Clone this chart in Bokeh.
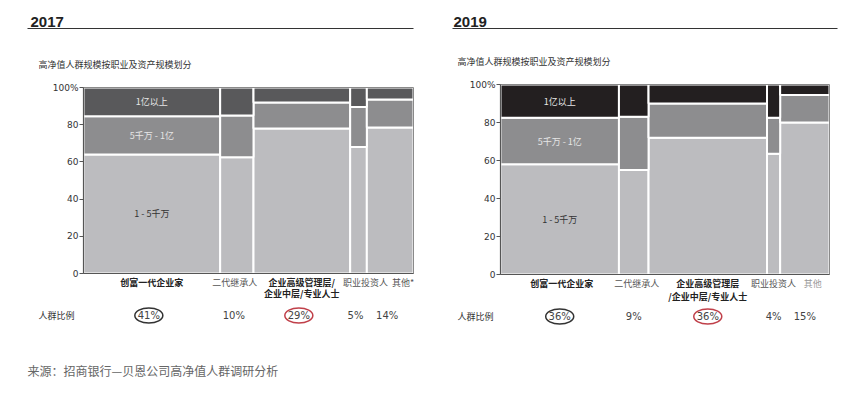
from bokeh.plotting import figure
from bokeh.layouts import row
from bokeh.models import Range1d, FixedTicker
from bokeh.embed import file_html
from bokeh.resources import INLINE
from bokeh.core.properties import value

# ---------------- data ----------------
tier_names = ["1 - 5千万", "5千万 - 1亿", "1亿以上"]

cats_2017 = [["创富一代企业家"], ["二代继承人"], ["企业高级管理层/", "企业中层/专业人士"], ["职业投资人"], ["其他*"]]
share_2017 = [41, 10, 29, 5, 14]
low_2017 = [64, 62.5, 78, 68, 78.5]    # 1 - 5千万
mid_2017 = [20.5, 22.5, 14, 21.5, 15]  # 5千万 - 1亿
top_2017 = [15.5, 15, 8, 10.5, 6.5]    # 1亿以上
pct_2017 = ["41%", "10%", "29%", "5%", "14%"]

cats_2019 = [["创富一代企业家"], ["二代继承人"], ["企业高级管理层", "/企业中层/专业人士"], ["职业投资人"], ["其他"]]
share_2019 = [36, 9, 36, 4, 15]
low_2019 = [58, 55, 72, 63.5, 80]
mid_2019 = [24.5, 28, 18, 19, 14.5]
top_2019 = [17.5, 17, 10, 17.5, 5.5]
pct_2019 = ["36%", "9%", "36%", "4%", "15%"]

y_ticks = [0, 20, 40, 60, 80, 100]
subtitle = "高净值人群规模按职业及资产规模划分"
row_label = "人群比例"
source_note = "来源：招商银行—贝恩公司高净值人群调研分析"

CJK = value("Noto Sans CJK SC")
LAT = value("DejaVu Sans")
H = 392


def side(year, shares, low, mid, top, cats, pcts, colors, geo, txt, cat_dx, cat_colors, circles,
         note=None):
    total = sum(shares)
    x0, W, fl, fr, ft, fb = geo
    kx = (fr - fl) / total     # px per x unit
    ky = (fb - ft) / 100.0     # px per y unit

    def X(px):
        return (px - fl) / kx

    def Y(py):
        return (fb - py) / ky

    p = figure(width=W, height=H, x_range=Range1d(X(x0), X(x0 + W)), y_range=Range1d(Y(H), Y(0)),
               output_backend="svg", toolbar_location=None, min_border=0)
    p.xaxis.visible = False
    p.grid.visible = False
    p.outline_line_color = None

    lefts, rights = [], []
    acc = 0
    for s in shares:
        lefts.append(acc)
        acc += s
        rights.append(acc)
    centers = [(l + r) / 2 for l, r in zip(lefts, rights)]
    b1 = list(low)
    b2 = [l + m for l, m in zip(low, mid)]
    b3 = [a + t for a, t in zip(b2, top)]
    for bot, tp, c in (([0] * 5, b1, colors[0]), (b1, b2, colors[1]), (b2, b3, colors[2])):
        p.quad(left=lefts, right=rights, bottom=bot, top=tp, fill_color=c,
               line_color="white", line_width=2)
    # frame border
    p.quad(left=[0], right=[total], bottom=[0], top=[100], fill_color=None,
           line_color="#8a8a8a", line_width=1)
    p.segment(x0=[0, 0], y0=[0, 0], x1=[0, total], y1=[100, 0], line_color="#555", line_width=1.2)

    # tier labels in first column
    p.text(x=[centers[0]] * 3, y=[b1[0] / 2, (b1[0] + b2[0]) / 2, (b2[0] + b3[0]) / 2],
           text=tier_names, text_font=CJK, text_font_size="9px",
           text_color=["#333333", "#e6e6e6", "#e6e6e6"],
           text_align="center", text_baseline="middle")

    yax = p.yaxis[0]
    yax.fixed_location = 0
    yax.ticker = FixedTicker(ticks=y_ticks)
    yax.major_label_overrides = {100: "100%"}
    yax.minor_tick_line_color = None
    yax.major_tick_in = 0
    yax.major_tick_out = 4
    yax.major_label_standoff = 1
    yax.axis_line_color = None
    yax.major_tick_line_color = "#555"
    yax.major_label_text_font = "DejaVu Sans"
    yax.major_label_text_font_size = "9px"
    yax.major_label_text_color = "#333"

    # header
    p.text(x=[X(txt["title_x"])], y=[Y(21)], text=[year], text_font=value("Liberation Sans"),
           text_font_style="bold", text_font_size="15px", text_color="#222",
           text_baseline="alphabetic")
    p.line(x=[X(txt["line_x0"]), X(txt["line_x1"])], y=[Y(28), Y(28)], line_color="#333",
           line_width=1)
    p.text(x=[X(txt["left_x"])], y=[Y(txt["sub_y"])], text=[subtitle], text_font=CJK,
           text_font_size="9px", text_color="#333", text_baseline="middle")

    # category labels
    cx, cy, ct, cs, cc = [], [], [], [], []
    for i, lines in enumerate(cats):
        for j, t in enumerate(lines):
            cx.append(centers[i] + cat_dx[i] / kx)
            cy.append(Y(txt["cat_y"][j]))
            ct.append(t)
            cs.append("bold" if i in (0, 2) else "normal")
            cc.append(cat_colors[i])
    p.text(x=cx, y=cy, text=ct, text_font=CJK, text_font_size="9px", text_font_style=cs,
           text_color=cc, text_align="center", text_baseline="middle")

    # share row
    py = txt["pct_y"]
    p.text(x=[X(txt["left_x"])], y=[Y(py)], text=[row_label], text_font=CJK,
           text_font_size="9px", text_color="#333", text_baseline="middle")
    px = [c + txt["pct_dx"] / kx for c in centers]
    p.text(x=px, y=[Y(py)] * len(pcts), text=pcts, text_font=LAT, text_font_size="10px",
           text_color="#444", text_align="center", text_baseline="middle")
    ex = [px[i] for i in circles]
    ec = [circles[i] for i in circles]
    p.ellipse(x=ex, y=[Y(py)] * len(ex), width=28, height=15, width_units="screen",
              height_units="screen", fill_color=None, line_color=ec, line_width=1.5)

    if note:
        p.text(x=[X(27)], y=[Y(370)], text=[note], text_font=CJK, text_font_size="12px",
               text_color="#666", text_baseline="middle")
    return p


p17 = side("2017", share_2017, low_2017, mid_2017, top_2017, cats_2017, pct_2017,
           ["#bcbcbf", "#8d8d8f", "#59595b"], (0, 432, 83, 413, 87, 273),
           dict(title_x=30, line_x0=27, line_x1=413, left_x=38, sub_y=64,
                cat_y=[282, 293], pct_y=315, pct_dx=-3),
           [0, -2, 0, 7, 13], ["#222", "#555", "#222", "#555", "#555"],
           {0: "#333", 2: "#c0404a"}, note=source_note)
p19 = side("2019", share_2019, low_2019, mid_2019, top_2019, cats_2019, pct_2019,
           ["#bcbcbf", "#8d8d8f", "#231f20"], (432, 432, 500, 829, 84, 274),
           dict(title_x=453, line_x0=452, line_x1=837, left_x=457, sub_y=61,
                cat_y=[282.5, 296], pct_y=316, pct_dx=0),
           [2, 3, 0, 0, 8], ["#222", "#555", "#222", "#555", "#999"],
           {0: "#333", 2: "#c0404a"})

layout = row(p17, p19)
open("out.html", "w").write(file_html(layout, INLINE))
